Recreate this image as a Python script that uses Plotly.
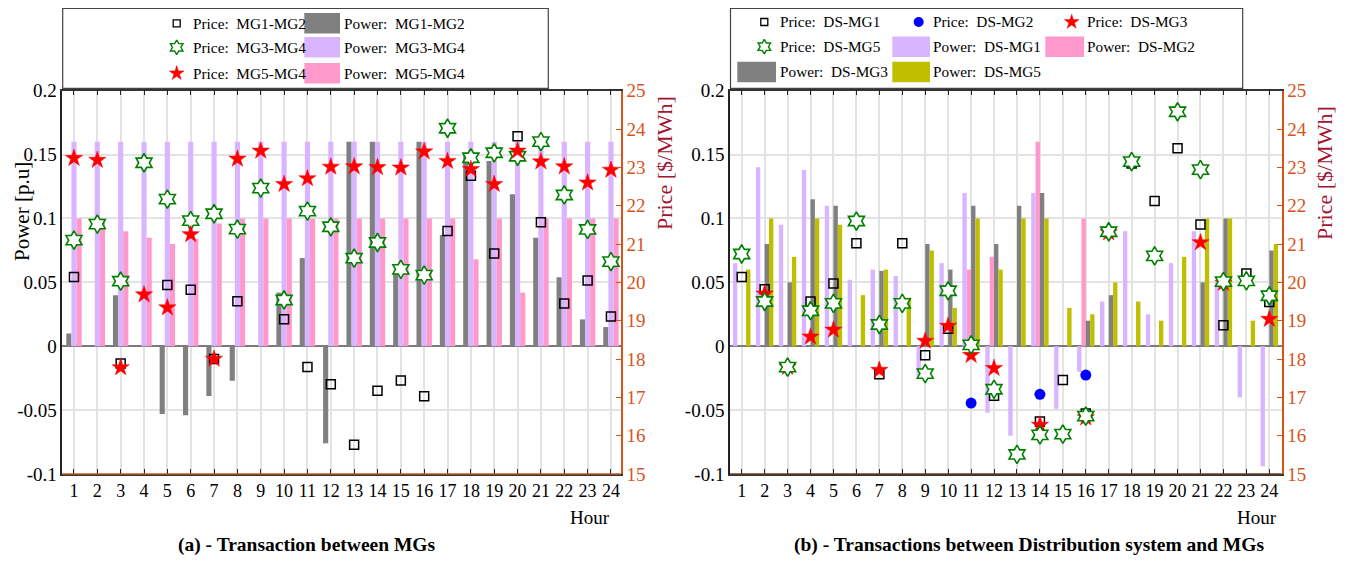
import plotly.graph_objects as go

# ---------------- data ----------------
hours = list(range(1, 25))

# Panel (a): transactions between MGs
pow_mg1_mg2 = [0.01, 0, 0.04, 0, -0.053, -0.054, -0.039, -0.027, 0, 0.042, 0.069, -0.076,
               0.16, 0.16, 0.058, 0.16, 0.087, 0.15, 0.145, 0.119, 0.085, 0.054, 0.021, 0.015]
pow_mg3_mg4 = [0.16, 0.16, 0.16, 0.16, 0.16, 0.16, 0.16, 0.16, 0.16, 0.16, 0.16, 0.16,
               0.16, 0.16, 0.16, 0.16, 0.16, 0.16, 0.16, 0.16, 0.16, 0.16, 0.16, 0.16]
pow_mg5_mg4 = [0.1, 0.1, 0.09, 0.085, 0.08, 0.084, 0.096, 0.1, 0.1, 0.1, 0.1, 0.1,
               0.1, 0.1, 0.1, 0.1, 0.1, 0.068, 0.1, 0.042, 0.1, 0.1, 0.1, 0.1]
price_mg1_mg2 = [20.14, None, 17.88, None, 19.93, 19.81, 18.0, 19.51, None, 19.04, 17.79, 17.34,
                 15.76, 17.17, 17.44, 17.03, 21.34, 22.78, 20.75, 23.81, 21.57, 19.45, 20.05, 19.11]
price_mg3_mg4 = [21.1, 21.52, 20.03, 23.12, 22.17, 21.61, 21.79, 21.39, 22.46, 19.54, 21.86, 21.45,
                 20.63, 21.04, 20.34, 20.19, 24.02, 23.25, 23.38, 23.29, 23.67, 22.28, 21.38, 20.54]
price_mg5_mg4 = [23.24, 23.19, 17.78, 19.68, 19.34, 21.25, 18.0, 23.22, 23.43, 22.56, 22.71, 23.01,
                 23.02, 23.0, 22.99, 23.41, 23.16, 22.95, 22.56, 23.43, 23.15, 23.02, 22.6, 22.93]

# Panel (b): transactions between distribution system and MGs
pow_ds_mg1 = [0.065, 0.14, 0.095, 0.138, 0.11, 0.052, 0.06, 0.055, -0.023, 0.065, 0.12, -0.052,
              -0.07, 0.12, -0.049, -0.02, 0.035, 0.09, 0.025, 0.065, 0.09, 0.05, -0.04, -0.094]
pow_ds_mg2 = [0, 0, 0, 0, 0, 0, 0, 0, 0, 0, 0.06, 0.07,
              0, 0.16, 0, 0.1, 0, 0, 0, 0, 0, 0, 0, 0]
pow_ds_mg3 = [0, 0.08, 0.05, 0.115, 0.11, 0, 0.059, 0, 0.08, 0.06, 0.11, 0.08,
              0.11, 0.12, 0, 0.02, 0.04, 0, 0, 0, 0.05, 0.1, 0, 0.075]
pow_ds_mg5 = [0.06, 0.1, 0.07, 0.1, 0.095, 0.04, 0.06, 0.038, 0.075, 0.03, 0.1, 0.06,
              0.1, 0.1, 0.03, 0.025, 0.05, 0.035, 0.02, 0.07, 0.1, 0.1, 0.02, 0.08]
price_ds_mg1 = [20.14, 19.82, None, 19.5, 19.97, 21.02, 17.6, 21.02, 18.1, 18.79, None, 17.04,
                None, 16.37, 17.45, 16.58, None, 23.1, 22.12, 23.5, 21.51, 18.88, 20.23, 19.49]
price_ds_mg2 = [None, None, None, None, None, None, None, None, None, None, 16.85, None,
                None, 17.08, None, 17.58, None, None, None, None, None, None, None, None]
price_ds_mg3 = [None, 19.7, 17.79, 18.58, 18.76, None, 17.71, None, 18.47, 18.86, 18.1, 17.76,
                None, 16.28, None, 16.47, 21.3, None, None, None, 21.04, 19.98, None, 19.04]
price_ds_mg5 = [20.74, 19.5, 17.79, 19.26, 19.45, 21.6, 18.9, 19.45, 17.62, 19.78, 18.37, 17.21,
                15.51, 16.02, 16.04, 16.51, 21.32, 23.15, 20.69, 24.45, 22.94, 20.02, 20.04, 19.65]

power_ticks = [-0.1, -0.05, 0, 0.05, 0.1, 0.15, 0.2]
power_tick_text = ["-0.1", "-0.05", "0", "0.05", "0.1", "0.15", "0.2"]
price_ticks = [15, 16, 17, 18, 19, 20, 21, 22, 23, 24, 25]

# ---------------- style ----------------
GRAY = "#808080"
PURPLE = "#d9b5ff"
PINK = "#ff99cc"
OLIVE = "#bfbf00"
ORANGE = "#d95319"
CRIMSON = "#a2142f"
FONT = "Liberation Serif"

W, H = 1359, 561
OFF = 8  # page body margin of the html page


def fx(x):
    return (x - OFF) / W


def fy(y):
    return 1 - (y - OFF) / H


fig = go.Figure()


def bar(x, y, color, xa, ya, offset, width):
    fig.add_trace(go.Bar(x=x, y=y, marker=dict(color=color, line=dict(width=0)),
                         offset=offset, width=width, xaxis=xa, yaxis=ya, showlegend=False))


def pts(x, y, symbol, color, size, xa, ya, lw=1.5, fill=None):
    fig.add_trace(go.Scatter(x=x, y=y, mode="markers", xaxis=xa, yaxis=ya, showlegend=False,
                             marker=dict(symbol=symbol, size=size,
                                         color=fill if fill else color,
                                         line=dict(color=color, width=lw))))


# panel (a)
bar(hours, pow_mg1_mg2, GRAY, "x", "y", -0.33, 0.22)
bar(hours, pow_mg3_mg4, PURPLE, "x", "y", -0.11, 0.22)
bar(hours, pow_mg5_mg4, PINK, "x", "y", 0.11, 0.22)
pts(hours, price_mg1_mg2, "square-open", "black", 9, "x", "y2")
pts(hours, price_mg3_mg4, "hexagram", "green", 14, "x", "y2", 1.6, "white")
pts(hours, price_mg5_mg4, "star", "red", 13, "x", "y2", 0.5, "red")

# panel (b)
bar(hours, pow_ds_mg1, PURPLE, "x2", "y3", -0.38, 0.19)
bar(hours, pow_ds_mg2, PINK, "x2", "y3", -0.19, 0.19)
bar(hours, pow_ds_mg3, GRAY, "x2", "y3", 0.0, 0.19)
bar(hours, pow_ds_mg5, OLIVE, "x2", "y3", 0.19, 0.19)
pts(hours, price_ds_mg1, "square-open", "black", 9, "x2", "y4")
pts(hours, price_ds_mg2, "circle", "blue", 11, "x2", "y4", 0, "blue")
pts(hours, price_ds_mg3, "star", "red", 13, "x2", "y4", 0.5, "red")
pts(hours, price_ds_mg5, "hexagram", "green", 14, "x2", "y4", 1.6, "white")

# ---------------- axes ----------------
ydom = [fy(474), fy(90.7)]
xdomA = [fx(62.3), fx(621)]
xdomB = [fx(730), fx(1281.7)]

xcommon = dict(tickmode="array", tickvals=hours, ticktext=[str(h) for h in hours],
               showgrid=True, gridcolor="#e3e3e3", gridwidth=1.5,
               showline=True, linecolor="#333333", linewidth=1.5, mirror="ticks",
               ticks="inside", ticklen=5, tickcolor="#222222",
               tickfont=dict(family=FONT, size=18, color="black"), zeroline=False)
ycommon = dict(range=[-0.1, 0.2], tickmode="array", tickvals=power_ticks, ticktext=power_tick_text,
               showgrid=True, gridcolor="#e3e3e3", gridwidth=1.5,
               zeroline=True, zerolinecolor="#7a7a7a", zerolinewidth=2,
               showline=True, linecolor="#222222", linewidth=1.5, ticks="",
               tickfont=dict(family=FONT, size=19, color="black"))
y2common = dict(range=[15, 25], tickmode="array", tickvals=price_ticks, side="right",
                showgrid=False, zeroline=False, showline=True, linecolor=ORANGE, linewidth=1.5,
                ticks="inside", ticklen=5, tickcolor=ORANGE,
                tickfont=dict(family=FONT, size=19, color=ORANGE))

fig.update_layout(
    width=W, height=H, autosize=False,
    margin=dict(l=0, r=0, t=0, b=0, pad=0, autoexpand=False),
    paper_bgcolor="white", plot_bgcolor="rgba(0,0,0,0)",
    barmode="overlay", showlegend=False,
    font=dict(family=FONT, color="black"),
    xaxis=dict(domain=xdomA, range=[0.5, 24.43], anchor="y", **xcommon),
    yaxis=dict(domain=ydom, anchor="x", **ycommon),
    yaxis2=dict(overlaying="y", anchor="x", **y2common),
    xaxis2=dict(domain=xdomB, range=[0.49, 24.54], anchor="y3", **xcommon),
    yaxis3=dict(domain=ydom, anchor="x2", **ycommon),
    yaxis4=dict(overlaying="y3", anchor="x2", **y2common),
    xaxis5=dict(domain=[0, 1], range=[OFF, W + OFF], visible=False, anchor="y5"),
    yaxis5=dict(domain=[0, 1], range=[H + OFF, OFF], visible=False, anchor="x5"),
)

shapes = []
# bottom edges (brownish) of each panel
shapes.append(dict(type="line", xref="paper", yref="paper", x0=xdomA[0], x1=xdomA[1],
                   y0=ydom[0], y1=ydom[0], line=dict(color="#c0582a", width=1.5)))
shapes.append(dict(type="line", xref="paper", yref="paper", x0=xdomB[0], x1=xdomB[1],
                   y0=ydom[0], y1=ydom[0], line=dict(color="#6e3b2a", width=1.5)))

annotations = []


def px_ann(text, x, y, size=16, color="black", xanchor="left", bold=False, angle=0):
    annotations.append(dict(text=("<b>%s</b>" % text) if bold else text,
                            x=fx(x), y=fy(y), xref="paper", yref="paper",
                            xanchor=xanchor, yanchor="middle", showarrow=False, textangle=angle,
                            font=dict(family=FONT, size=size, color=color)))


# ---------------- legends (drawn) ----------------
def legend_box(x0, y0, x1, y1):
    shapes.append(dict(type="rect", xref="paper", yref="paper", x0=fx(x0), x1=fx(x1),
                       y0=fy(y1), y1=fy(y0), line=dict(color="#444444", width=1.2),
                       fillcolor="white", layer="below"))


def legend_swatch(x0, y0, x1, y1, color):
    shapes.append(dict(type="rect", xref="paper", yref="paper", x0=fx(x0), x1=fx(x1),
                       y0=fy(y1), y1=fy(y0), line=dict(width=0),
                       fillcolor=color, layer="above"))


def legend_marker(x, y, symbol, color, size, lw=1.5, fill=None):
    fig.add_trace(go.Scatter(x=[x], y=[y], mode="markers", xaxis="x5", yaxis="y5",
                             showlegend=False, hoverinfo="skip", cliponaxis=False,
                             marker=dict(symbol=symbol, size=size, color=fill if fill else color,
                                         line=dict(color=color, width=lw))))


LEG = 15.3
# left legend
legend_box(62.7, 8.3, 548.3, 88.3)
rowsA = [23.3, 47.3, 73.3]
legend_marker(176.7, rowsA[0], "square-open", "black", 7, 1.3)
legend_marker(176.7, rowsA[1], "hexagram", "green", 11, 1.4, "white")
legend_marker(176.7, rowsA[2], "star", "red", 11, 0.5, "red")
for i, (lab_p, lab_w, col) in enumerate([("Price:  MG1-MG2", "Power:  MG1-MG2", GRAY),
                                          ("Price:  MG3-MG4", "Power:  MG3-MG4", PURPLE),
                                          ("Price:  MG5-MG4", "Power:  MG5-MG4", PINK)]):
    px_ann(lab_p, 191, rowsA[i], LEG)
    legend_swatch(304.3, rowsA[i] - 10.3, 340, rowsA[i] + 10.3, col)
    px_ann(lab_w, 341.5, rowsA[i], LEG)

# right legend
legend_box(730.5, 8.3, 1242.7, 88.3)
rowsB = [22.0, 46.7, 72.0]
legend_marker(764.3, rowsB[0], "square-open", "black", 7, 1.3)
px_ann("Price:  DS-MG1", 778, rowsB[0], LEG)
legend_marker(918.7, rowsB[0], "circle", "blue", 10, 0, "blue")
px_ann("Price:  DS-MG2", 931.5, rowsB[0], LEG)
legend_marker(1071.7, rowsB[0], "star", "red", 11, 0.5, "red")
px_ann("Price:  DS-MG3", 1085, rowsB[0], LEG)
legend_marker(764.3, rowsB[1], "hexagram", "green", 11, 1.4, "white")
px_ann("Price:  DS-MG5", 778, rowsB[1], LEG)
legend_swatch(892.3, rowsB[1] - 10.3, 930, rowsB[1] + 10.3, PURPLE)
px_ann("Power:  DS-MG1", 931.5, rowsB[1], LEG)
legend_swatch(1045.3, rowsB[1] - 10.3, 1084, rowsB[1] + 10.3, PINK)
px_ann("Power:  DS-MG2", 1085, rowsB[1], LEG)
legend_swatch(737.3, rowsB[2] - 10.3, 776, rowsB[2] + 10.3, GRAY)
px_ann("Power:  DS-MG3", 778, rowsB[2], LEG)
legend_swatch(892.3, rowsB[2] - 10.3, 930, rowsB[2] + 10.3, OLIVE)
px_ann("Power:  DS-MG5", 931.5, rowsB[2], LEG)

# ---------------- titles / labels ----------------
px_ann("Power [p.u]", 22, 212, 21, "black", "center", False, -90)
px_ann("Price [$/MWh]", 664, 163, 22, CRIMSON, "center", False, -90)
px_ann("Price [$/MWh]", 1324, 173, 22, CRIMSON, "center", False, -90)
px_ann("Hour", 590, 517, 19, "black", "center")
px_ann("Hour", 1257, 517, 19, "black", "center")
px_ann("(a) - Transaction between MGs", 306, 545, 19.5, "black", "center", True)
px_ann("(b) - Transactions between Distribution system and MGs", 1029, 545, 19.5, "black", "center", True)

fig.update_layout(shapes=shapes, annotations=annotations)
fig.write_html("out.html")
